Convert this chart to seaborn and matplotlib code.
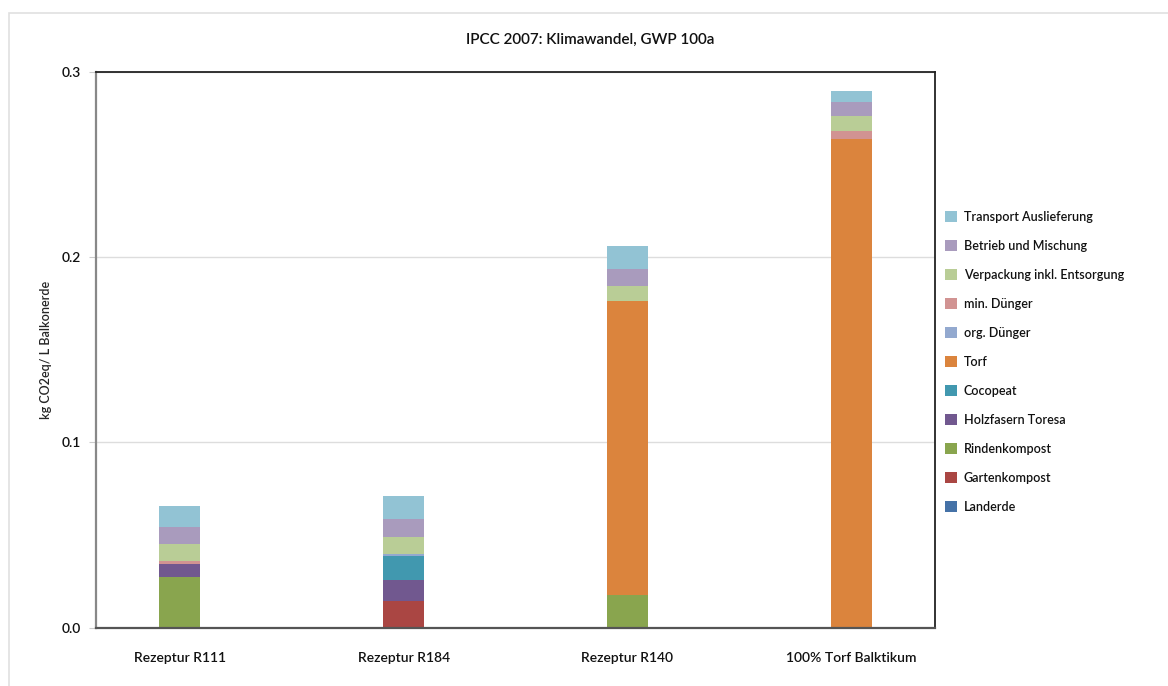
import matplotlib
matplotlib.use("Agg")
import matplotlib.pyplot as plt
from matplotlib.patches import Patch, Rectangle
import numpy as np
import seaborn as sns

# categories (x axis)
rezepturen = ["Rezeptur R111", "Rezeptur R184", "Rezeptur R140", "100% Torf Balktikum"]

# stacked components, bottom -> top (kg CO2eq / L)
landerde = [0.0, 0.0, 0.0, 0.0]
gartenkompost = [0.0, 0.0146, 0.0, 0.0]
rindenkompost = [0.0272, 0.0, 0.0177, 0.0]
holzfasern = [0.0070, 0.0112, 0.0, 0.0]
cocopeat = [0.0, 0.0131, 0.0, 0.0]
torf = [0.0, 0.0, 0.1585, 0.2641]
org_duenger = [0.0, 0.0010, 0.0, 0.0]
min_duenger = [0.0018, 0.0, 0.0, 0.0043]
verpackung = [0.0090, 0.0088, 0.0081, 0.0077]
betrieb = [0.0095, 0.0100, 0.0096, 0.0078]
transport = [0.0110, 0.0122, 0.0122, 0.0059]

layers = [
    ("Landerde", landerde, "#4572a7"),
    ("Gartenkompost", gartenkompost, "#aa4643"),
    ("Rindenkompost", rindenkompost, "#89a54e"),
    ("Holzfasern Toresa", holzfasern, "#71588f"),
    ("Cocopeat", cocopeat, "#4198af"),
    ("Torf", torf, "#db843d"),
    ("org. Dünger", org_duenger, "#93a9cf"),
    ("min. Dünger", min_duenger, "#d19392"),
    ("Verpackung inkl. Entsorgung", verpackung, "#b9cd96"),
    ("Betrieb und Mischung", betrieb, "#a99bbd"),
    ("Transport Auslieferung", transport, "#92c3d4"),
]

sns.set_style("white")
plt.rcParams["font.family"] = ["Lato", "DejaVu Sans"]
plt.rcParams["text.color"] = "#111111"
plt.rcParams["xtick.color"] = "#111111"
plt.rcParams["ytick.color"] = "#111111"

fig = plt.figure(figsize=(11.68, 6.86), dpi=100)
ax = fig.add_axes([0.0822, 0.085, 0.7183, 0.81])

bottom = np.zeros(len(rezepturen))
for name, vals, col in layers:
    sns.barplot(x=rezepturen, y=vals, bottom=bottom, color=col, width=0.183,
                errorbar=None, ax=ax, linewidth=0, saturation=1)
    bottom = bottom + np.array(vals)

ax.set_xlim(-0.375, 3.375)
ax.set_ylim(0, 0.3)
ax.set_yticks([0.0, 0.1, 0.2, 0.3])
ax.set_yticklabels(["0.0", "0.1", "0.2", "0.3"])
ax.yaxis.grid(True, color="#dddddd", linewidth=1)
ax.set_axisbelow(True)
ax.tick_params(axis="y", left=True, length=5, color="#cccccc", labelsize=10, pad=6,
               labelcolor="#111111")
ax.tick_params(axis="x", bottom=False, labelsize=10, pad=14, labelcolor="#111111")
for lbl in ax.get_xticklabels() + ax.get_yticklabels():
    lbl.set_fontweight("semibold")

for side in ["top", "right"]:
    ax.spines[side].set_color("#222222")
    ax.spines[side].set_linewidth(1.3)
ax.spines["left"].set_color("#888888")
ax.spines["left"].set_linewidth(1.6)
ax.spines["bottom"].set_color("#555555")
ax.spines["bottom"].set_linewidth(1.6)

ax.set_ylabel("kg CO2eq/ L Balkonerde", fontsize=9, labelpad=7, fontweight="semibold")
ax.set_xlabel("")

fig.text(0.505, 1 - 40 / 686, "IPCC 2007: Klimawandel, GWP 100a", ha="center",
         va="center", fontsize=11, fontweight="semibold")

handles = [Patch(facecolor=col, edgecolor="none", label=name)
           for name, vals, col in reversed(layers)]
leg = ax.legend(handles=handles, loc="upper left", bbox_to_anchor=(1.0, 0.768),
                frameon=False, fontsize=9, handlelength=1.0, handleheight=1.0,
                labelspacing=1.36, handletextpad=0.5, borderaxespad=0.4)
for t in leg.get_texts():
    t.set_fontweight("semibold")

# light outer frame
fig.patches.append(Rectangle((9 / 1168, -0.01), 1.0, 1 - 13 / 686 + 0.01,
                             transform=fig.transFigure, fill=False,
                             edgecolor="#e0e0e0", linewidth=1.2))

fig.savefig("out.png", dpi=100, facecolor="white")
